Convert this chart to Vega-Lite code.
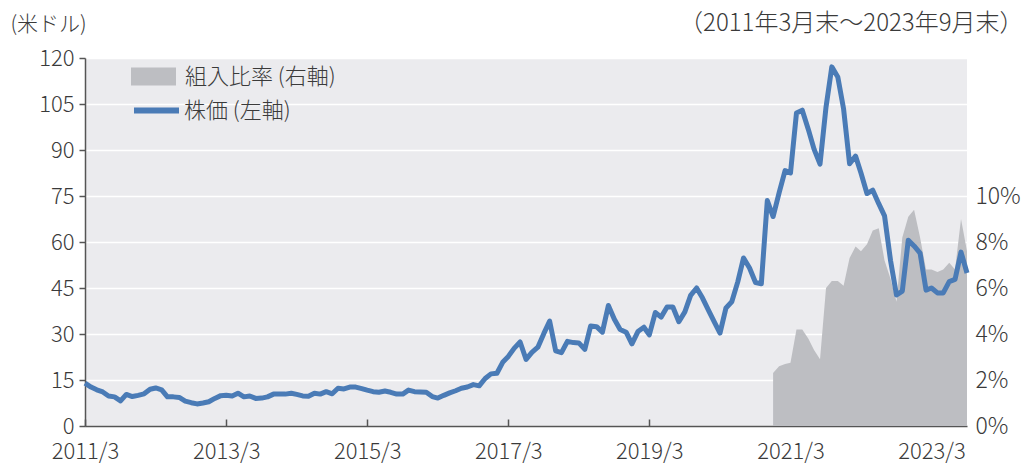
{
  "$schema": "https://vega.github.io/schema/vega-lite/v6.json",
  "width": 882,
  "height": 368,
  "autosize": {"type": "none"},
  "padding": {"left": 85, "top": 58, "right": 56, "bottom": 38},
  "background": "white",
  "config": {
    "view": {"fill": "#EBEBEE", "stroke": null},
    "font": "Noto Sans CJK JP",
    "axis": {"labelFont": "Noto Sans CJK JP", "titleFont": "Noto Sans CJK JP", "labelColor": "#3a3a3a", "titleColor": "#3a3a3a", "labelFontSize": 23, "titleFontSize": 21, "titleFontWeight": 300, "labelFontWeight": 300},
    "legend": {"labelFont": "Noto Sans CJK JP", "labelColor": "#3a3a3a", "labelFontSize": 22, "labelFontWeight": 300}
  },
  "datasets": {
    "price": [
      {"date": "2011-03", "price": 14.0}, {"date": "2011-04", "price": 12.7}, {"date": "2011-05", "price": 11.8}, {"date": "2011-06", "price": 11.1}, {"date": "2011-07", "price": 9.8}, {"date": "2011-08", "price": 9.5}, {"date": "2011-09", "price": 8.2}, {"date": "2011-10", "price": 10.3}, {"date": "2011-11", "price": 9.6}, {"date": "2011-12", "price": 10.0},
      {"date": "2012-01", "price": 10.5}, {"date": "2012-02", "price": 12.0}, {"date": "2012-03", "price": 12.4}, {"date": "2012-04", "price": 11.8}, {"date": "2012-05", "price": 9.5}, {"date": "2012-06", "price": 9.5}, {"date": "2012-07", "price": 9.3}, {"date": "2012-08", "price": 8.1}, {"date": "2012-09", "price": 7.6}, {"date": "2012-10", "price": 7.2}, {"date": "2012-11", "price": 7.5}, {"date": "2012-12", "price": 7.9},
      {"date": "2013-01", "price": 9.0}, {"date": "2013-02", "price": 9.9}, {"date": "2013-03", "price": 10.0}, {"date": "2013-04", "price": 9.8}, {"date": "2013-05", "price": 10.7}, {"date": "2013-06", "price": 9.5}, {"date": "2013-07", "price": 9.8}, {"date": "2013-08", "price": 9.0}, {"date": "2013-09", "price": 9.1}, {"date": "2013-10", "price": 9.5}, {"date": "2013-11", "price": 10.4}, {"date": "2013-12", "price": 10.4},
      {"date": "2014-01", "price": 10.4}, {"date": "2014-02", "price": 10.7}, {"date": "2014-03", "price": 10.3}, {"date": "2014-04", "price": 9.8}, {"date": "2014-05", "price": 9.7}, {"date": "2014-06", "price": 10.7}, {"date": "2014-07", "price": 10.4}, {"date": "2014-08", "price": 11.2}, {"date": "2014-09", "price": 10.5}, {"date": "2014-10", "price": 12.3}, {"date": "2014-11", "price": 12.1}, {"date": "2014-12", "price": 12.7},
      {"date": "2015-01", "price": 12.7}, {"date": "2015-02", "price": 12.2}, {"date": "2015-03", "price": 11.7}, {"date": "2015-04", "price": 11.2}, {"date": "2015-05", "price": 11.0}, {"date": "2015-06", "price": 11.4}, {"date": "2015-07", "price": 11.0}, {"date": "2015-08", "price": 10.4}, {"date": "2015-09", "price": 10.4}, {"date": "2015-10", "price": 11.7}, {"date": "2015-11", "price": 11.2}, {"date": "2015-12", "price": 11.1},
      {"date": "2016-01", "price": 11.0}, {"date": "2016-02", "price": 9.6}, {"date": "2016-03", "price": 9.1}, {"date": "2016-04", "price": 10.0}, {"date": "2016-05", "price": 10.8}, {"date": "2016-06", "price": 11.5}, {"date": "2016-07", "price": 12.3}, {"date": "2016-08", "price": 12.7}, {"date": "2016-09", "price": 13.5}, {"date": "2016-10", "price": 13.1}, {"date": "2016-11", "price": 15.5}, {"date": "2016-12", "price": 17.0},
      {"date": "2017-01", "price": 17.2}, {"date": "2017-02", "price": 20.9}, {"date": "2017-03", "price": 22.7}, {"date": "2017-04", "price": 25.4}, {"date": "2017-05", "price": 27.4}, {"date": "2017-06", "price": 21.7}, {"date": "2017-07", "price": 24.0}, {"date": "2017-08", "price": 25.7}, {"date": "2017-09", "price": 30.2}, {"date": "2017-10", "price": 34.2}, {"date": "2017-11", "price": 24.5}, {"date": "2017-12", "price": 23.9},
      {"date": "2018-01", "price": 27.6}, {"date": "2018-02", "price": 27.2}, {"date": "2018-03", "price": 27.1}, {"date": "2018-04", "price": 25.0}, {"date": "2018-05", "price": 32.6}, {"date": "2018-06", "price": 32.4}, {"date": "2018-07", "price": 30.6}, {"date": "2018-08", "price": 39.3}, {"date": "2018-09", "price": 34.8}, {"date": "2018-10", "price": 31.5}, {"date": "2018-11", "price": 30.6}, {"date": "2018-12", "price": 26.8},
      {"date": "2019-01", "price": 30.8}, {"date": "2019-02", "price": 32.2}, {"date": "2019-03", "price": 29.7}, {"date": "2019-04", "price": 37.0}, {"date": "2019-05", "price": 35.5}, {"date": "2019-06", "price": 38.8}, {"date": "2019-07", "price": 38.8}, {"date": "2019-08", "price": 34.0}, {"date": "2019-09", "price": 37.2}, {"date": "2019-10", "price": 42.6}, {"date": "2019-11", "price": 45.0}, {"date": "2019-12", "price": 41.8},
      {"date": "2020-01", "price": 37.8}, {"date": "2020-02", "price": 33.9}, {"date": "2020-03", "price": 30.3}, {"date": "2020-04", "price": 38.5}, {"date": "2020-05", "price": 40.5}, {"date": "2020-06", "price": 47.0}, {"date": "2020-07", "price": 54.8}, {"date": "2020-08", "price": 51.5}, {"date": "2020-09", "price": 46.8}, {"date": "2020-10", "price": 46.4}, {"date": "2020-11", "price": 73.5}, {"date": "2020-12", "price": 68.3},
      {"date": "2021-01", "price": 76.0}, {"date": "2021-02", "price": 83.3}, {"date": "2021-03", "price": 82.5}, {"date": "2021-04", "price": 102.1}, {"date": "2021-05", "price": 103.0}, {"date": "2021-06", "price": 96.8}, {"date": "2021-07", "price": 90.3}, {"date": "2021-08", "price": 85.4}, {"date": "2021-09", "price": 104.0}, {"date": "2021-10", "price": 117.1}, {"date": "2021-11", "price": 113.8}, {"date": "2021-12", "price": 103.4},
      {"date": "2022-01", "price": 85.5}, {"date": "2022-02", "price": 88.0}, {"date": "2022-03", "price": 82.5}, {"date": "2022-04", "price": 75.8}, {"date": "2022-05", "price": 76.9}, {"date": "2022-06", "price": 72.5}, {"date": "2022-07", "price": 68.5}, {"date": "2022-08", "price": 54.0}, {"date": "2022-09", "price": 42.7}, {"date": "2022-10", "price": 44.0}, {"date": "2022-11", "price": 60.6}, {"date": "2022-12", "price": 58.7},
      {"date": "2023-01", "price": 56.4}, {"date": "2023-02", "price": 44.3}, {"date": "2023-03", "price": 45.0}, {"date": "2023-04", "price": 43.4}, {"date": "2023-05", "price": 43.4}, {"date": "2023-06", "price": 47.1}, {"date": "2023-07", "price": 47.8}, {"date": "2023-08", "price": 56.7}, {"date": "2023-09", "price": 49.9}
    ],
    "ratio": [
      {"date": "2020-12", "ratio": 2.3},
      {"date": "2021-01", "ratio": 2.6}, {"date": "2021-02", "ratio": 2.7}, {"date": "2021-03", "ratio": 2.75}, {"date": "2021-04", "ratio": 4.2}, {"date": "2021-05", "ratio": 4.2}, {"date": "2021-06", "ratio": 3.8}, {"date": "2021-07", "ratio": 3.3}, {"date": "2021-08", "ratio": 2.9}, {"date": "2021-09", "ratio": 6.0}, {"date": "2021-10", "ratio": 6.3}, {"date": "2021-11", "ratio": 6.3}, {"date": "2021-12", "ratio": 6.1},
      {"date": "2022-01", "ratio": 7.3}, {"date": "2022-02", "ratio": 7.8}, {"date": "2022-03", "ratio": 7.6}, {"date": "2022-04", "ratio": 7.9}, {"date": "2022-05", "ratio": 8.5}, {"date": "2022-06", "ratio": 8.6}, {"date": "2022-07", "ratio": 7.2}, {"date": "2022-08", "ratio": 6.4}, {"date": "2022-09", "ratio": 5.4}, {"date": "2022-10", "ratio": 8.2}, {"date": "2022-11", "ratio": 9.1}, {"date": "2022-12", "ratio": 9.4},
      {"date": "2023-01", "ratio": 8.2}, {"date": "2023-02", "ratio": 6.8}, {"date": "2023-03", "ratio": 6.8}, {"date": "2023-04", "ratio": 6.7}, {"date": "2023-05", "ratio": 6.8}, {"date": "2023-06", "ratio": 7.1}, {"date": "2023-07", "ratio": 6.8}, {"date": "2023-08", "ratio": 9.0}, {"date": "2023-09", "ratio": 7.6}
    ]
  },
  "layer": [
    {
      "data": {"name": "ratio"},
      "mark": {"type": "area", "opacity": 1, "interpolate": "linear"},
      "encoding": {
        "x": {
          "field": "date", "type": "temporal",
          "scale": {"type": "utc", "domain": [{"year": 2011, "month": 3, "date": 1, "utc": true}, {"year": 2023, "month": 9, "date": 1, "utc": true}]},
          "axis": {
            "values": [
              {"year": 2011, "month": 3, "date": 1, "utc": true},
              {"year": 2013, "month": 3, "date": 1, "utc": true},
              {"year": 2015, "month": 3, "date": 1, "utc": true},
              {"year": 2017, "month": 3, "date": 1, "utc": true},
              {"year": 2019, "month": 3, "date": 1, "utc": true},
              {"year": 2021, "month": 3, "date": 1, "utc": true},
              {"year": 2023, "month": 3, "date": 1, "utc": true}
            ],
            "format": "%Y/%-m", "title": null, "grid": false,
            "labelFlush": false, "labelOverlap": false, "labelBound": false,
            "labelFontSize": 22,
            "domainColor": "#555555", "domainWidth": 1.5,
            "tickColor": "#555555", "tickWidth": 1.5, "tickSize": -7,
            "labelPadding": 22
          }
        },
        "y": {
          "field": "ratio", "type": "quantitative",
          "scale": {"domain": [0, 16], "nice": false, "zero": true},
          "axis": {
            "orient": "right", "values": [0, 2, 4, 6, 8, 10],
            "labelExpr": "datum.value + '%'",
            "domain": false, "ticks": false, "grid": false, "labelPadding": 8,
            "title": "（2011年3月末～2023年9月末）", "titleFontSize": 24, "titleAngle": 0, "titleX": 56, "titleY": -35,
            "titleAlign": "right", "titleBaseline": "middle"
          }
        },
        "fill": {
          "datum": "組入比率 (右軸)", "type": "nominal",
          "scale": {"range": ["#BDBEC2"]},
          "legend": {
            "orient": "none", "legendX": 46, "legendY": -4, "title": null, "padding": 0,
            "symbolType": "M-1,-0.4H1V0.4H-1Z", "symbolSize": 2025, "symbolStrokeWidth": 0,
            "labelOffset": 9
          }
        }
      }
    },
    {
      "data": {"name": "price"},
      "mark": {"type": "line", "strokeWidth": 5, "strokeJoin": "round", "strokeCap": "butt"},
      "encoding": {
        "x": {"field": "date", "type": "temporal"},
        "y": {
          "field": "price", "type": "quantitative",
          "scale": {"domain": [0, 120], "nice": false},
          "axis": {
            "orient": "left", "values": [0, 15, 30, 45, 60, 75, 90, 105, 120],
            "labelFontSize": 22,
            "grid": true, "gridColor": "#FFFFFF", "gridWidth": 1.5,
            "domainColor": "#555555", "domainWidth": 1.5,
            "tickColor": "#555555", "tickWidth": 1.5, "tickSize": 6, "labelPadding": 5,
            "title": "(米ドル)", "titleAngle": 0, "titleX": -75, "titleY": -34,
            "titleAlign": "left", "titleBaseline": "middle"
          }
        },
        "stroke": {
          "datum": "株価 (左軸)", "type": "nominal",
          "scale": {"range": ["#4A7BB6"]},
          "legend": {
            "orient": "none", "legendX": 46, "legendY": 27, "title": null, "padding": 0,
            "symbolType": "stroke", "symbolSize": 2025, "symbolStrokeWidth": 6,
            "labelOffset": 2
          }
        }
      }
    }
  ],
  "resolve": {"scale": {"y": "independent"}}
}
